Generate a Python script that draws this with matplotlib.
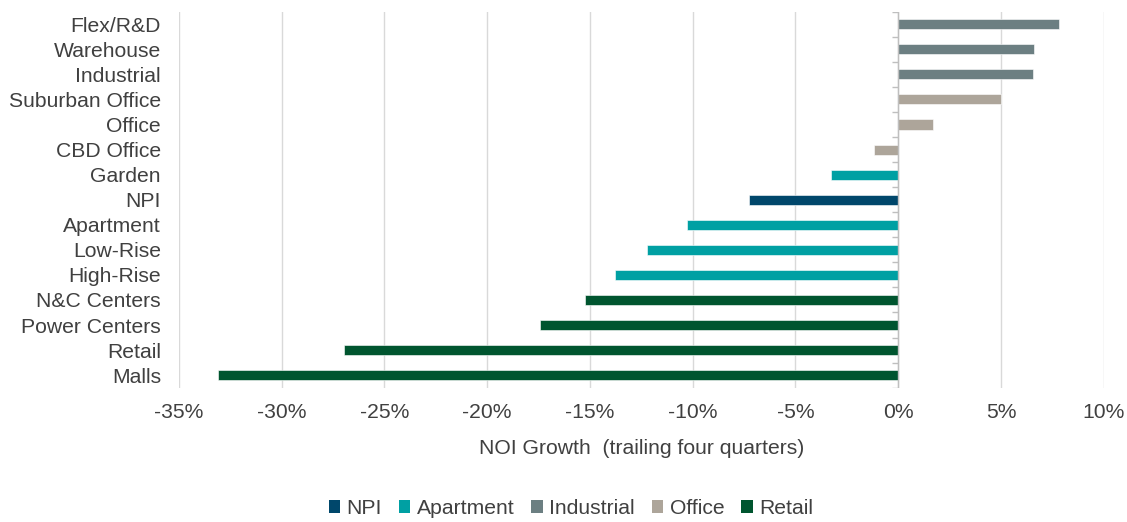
import matplotlib
matplotlib.use("Agg")
import matplotlib.pyplot as plt
from matplotlib.patches import Patch
from matplotlib.ticker import FuncFormatter, MultipleLocator

plt.rcParams['font.family'] = ['Liberation Sans', 'DejaVu Sans']
plt.rcParams['axes.unicode_minus'] = False

# Data (top to bottom)
categories = ["Flex/R&D", "Warehouse", "Industrial", "Suburban Office", "Office",
              "CBD Office", "Garden", "NPI", "Apartment", "Low-Rise", "High-Rise",
              "N&C Centers", "Power Centers", "Retail", "Malls"]
values = [7.82, 6.62, 6.57, 5.01, 1.70, -1.17, -3.27, -7.28, -10.30, -12.23,
          -13.79, -15.23, -17.42, -26.99, -33.09]
groups = ["Industrial", "Industrial", "Industrial", "Office", "Office",
          "Office", "Apartment", "NPI", "Apartment", "Apartment", "Apartment",
          "Retail", "Retail", "Retail", "Retail"]
legend_order = ["NPI", "Apartment", "Industrial", "Office", "Retail"]
group_colors = {"NPI": "#00476B", "Apartment": "#00A0A3", "Industrial": "#6C7F82",
                "Office": "#ADA59A", "Retail": "#00552F"}

text_color = "#404040"
grid_color = "#D9D9D9"
fs = 15.2

fig = plt.figure(figsize=(11.27, 5.22), dpi=100)
ax = fig.add_axes([0.1588, 0.2573, 0.9793 - 0.1588, 0.9776 - 0.2573])

n = len(categories)
ypos = list(range(n))
for g in legend_order:
    idx = [i for i, gg in enumerate(groups) if gg == g]
    ax.barh([ypos[i] for i in idx], [values[i] for i in idx], height=0.4,
            color=group_colors[g], edgecolor="white", linewidth=0.4, zorder=3, label=g)

ax.set_ylim(n - 0.5, -0.5)
ax.set_xlim(-35, 10)
ax.xaxis.set_major_locator(MultipleLocator(5))
ax.xaxis.set_major_formatter(FuncFormatter(lambda v, p: f"{v:.0f}%"))
ax.set_yticks(ypos)
ax.set_yticklabels(categories)

ax.grid(axis="x", color=grid_color, linewidth=1, zorder=0)
ax.grid(axis="y", visible=False)
for s in ax.spines.values():
    s.set_visible(False)

ax.tick_params(axis="x", length=0, pad=11, labelsize=fs, labelcolor=text_color)
ax.tick_params(axis="y", length=0, pad=13, labelsize=fs, labelcolor=text_color)

# vertical axis at zero with small tick marks at category boundaries
ax.axvline(0, color="#BFBFBF", linewidth=1, zorder=4)
bounds = [i - 0.5 for i in range(n + 1)]
ax.hlines(bounds, -0.32, 0, color="#BFBFBF", linewidth=1, zorder=4)

ax.set_xlabel("NOI Growth  (trailing four quarters)", fontsize=fs,
              color=text_color, labelpad=12)

handles = [Patch(facecolor=group_colors[g], edgecolor="none", label=g) for g in legend_order]
fig.legend(handles=handles, loc="center", bbox_to_anchor=(0.5066, 0.026), ncol=5,
           frameon=False, fontsize=fs, labelcolor=text_color,
           handlelength=0.55, handleheight=0.55, handletextpad=0.3, columnspacing=0.8)

fig.savefig("out.png", dpi=100)
